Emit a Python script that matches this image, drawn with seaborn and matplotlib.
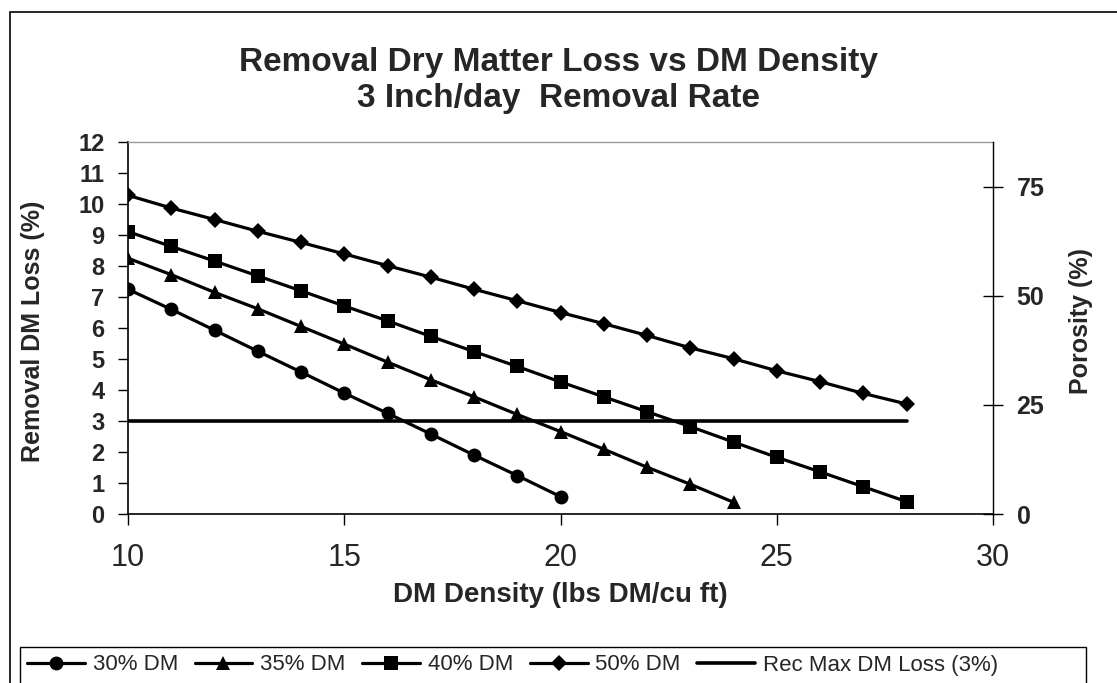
import pandas as pd
import matplotlib
matplotlib.use("Agg")
import matplotlib.pyplot as plt
from matplotlib.lines import Line2D
from matplotlib.patches import Rectangle
import seaborn as sns

# DM density (lbs DM/cu ft)
density = list(range(10, 29))

loss_30 = [7.25, 6.60, 5.93, 5.25, 4.58, 3.90, 3.25, 2.58, 1.90, 1.24, 0.56]
loss_35 = [8.25, 7.72, 7.15, 6.62, 6.05, 5.48, 4.90, 4.33, 3.78, 3.21, 2.66,
           2.09, 1.51, 0.96, 0.38]
loss_40 = [9.11, 8.63, 8.16, 7.68, 7.20, 6.71, 6.23, 5.73, 5.24, 4.76, 4.26,
           3.78, 3.30, 2.82, 2.32, 1.83, 1.36, 0.88, 0.40]
loss_50 = [10.28, 9.87, 9.50, 9.12, 8.76, 8.39, 8.01, 7.64, 7.25, 6.88, 6.50,
           6.14, 5.76, 5.36, 5.01, 4.62, 4.27, 3.89, 3.55]
rec_max = 3.0

series_names = ["30% DM", "35% DM", "40% DM", "50% DM", "Rec Max DM Loss (3%)"]
markers = ["o", "^", "s", "D", None]
msizes = [10, 10, 10, 8.5, 0]
widths = [2.3, 2.3, 2.3, 2.3, 2.6]

rows = []
for name, vals in zip(series_names[:4], [loss_30, loss_35, loss_40, loss_50]):
    for x, v in zip(density, vals):
        rows.append({"Density": x, "Loss": v, "Series": name})
for x in density:
    rows.append({"Density": x, "Loss": rec_max, "Series": series_names[4]})
df = pd.DataFrame(rows)

sns.set_style("white")
plt.rcParams["font.family"] = ["Liberation Sans", "DejaVu Sans"]

W, H = 1117, 683
fig = plt.figure(figsize=(W / 100, H / 100), dpi=100)
ax = fig.add_axes([128 / W, 1 - 514 / H, (993 - 128) / W, (514 - 142) / H])

for name, m, ms, lw in zip(series_names, markers, msizes, widths):
    sub = df[df["Series"] == name]
    sns.lineplot(data=sub, x="Density", y="Loss", color="black", lw=lw,
                 marker=m, markersize=ms, markeredgewidth=0, ax=ax,
                 zorder=3 if m else 2)

ax.set_xlim(10, 30)
ax.set_ylim(0, 12)
ax.set_xticks([10, 15, 20, 25, 30])
ax.set_yticks(range(0, 13))
ax.tick_params(axis="x", labelsize=22, direction="out", length=8, width=1,
               color="black", pad=13, bottom=True)
ax.tick_params(axis="y", labelsize=17, direction="out", length=7, width=1,
               color="black", pad=10, left=True)
for lab in ax.get_yticklabels():
    lab.set_fontweight("bold")
ax.set_xlabel("DM Density (lbs DM/cu ft)", fontsize=20, fontweight="bold")
ax.xaxis.set_label_coords(0.5, (514 - 582) / 372)
ax.set_ylabel("Removal DM Loss (%)", fontsize=18, fontweight="bold")
ax.yaxis.set_label_coords((45 - 128) / 865, 0.49)
for side in ["left", "bottom"]:
    ax.spines[side].set_color("black")
    ax.spines[side].set_linewidth(1.2)
ax.spines["top"].set_color("#999999")
ax.spines["top"].set_linewidth(1.0)
ax.spines["right"].set_visible(False)

ax2 = ax.twinx()
ax2.set_ylim(0, 85.3)
ax2.set_yticks([0, 25, 50, 75])
ax2.tick_params(axis="y", labelsize=18, direction="inout", length=14, width=1,
                color="black", pad=10, right=True)
for lab in ax2.get_yticklabels():
    lab.set_fontweight("bold")
ax2.set_ylabel("Porosity (%)", fontsize=18, fontweight="bold")
ax2.yaxis.set_label_coords(1 + (1069 - 993) / 865, 0.52)
for side in ["left", "bottom", "top"]:
    ax2.spines[side].set_visible(False)
ax2.spines["right"].set_color("black")
ax2.spines["right"].set_linewidth(1.0)

fig.text(0.5, 1 - 62 / H, "Removal Dry Matter Loss vs DM Density",
         ha="center", va="center", fontsize=24, fontweight="bold")
fig.text(0.5, 1 - 98 / H, "3 Inch/day  Removal Rate",
         ha="center", va="center", fontsize=24, fontweight="bold")

# outer chart frame (extends past right/bottom edges)
fig.patches.append(Rectangle((10 / W, -0.1), 1.2, 1.1 - 12 / H,
                             transform=fig.transFigure, fill=False,
                             edgecolor="black", linewidth=1.2))

# legend box
fig.patches.append(Rectangle((20 / W, -0.1), (1086 - 20) / W,
                             0.1 + (H - 647) / H,
                             transform=fig.transFigure, fill=False,
                             edgecolor="black", linewidth=1.0))
handles = []
for m, ms, lw in zip(markers, msizes, widths):
    handles.append(Line2D([], [], color="black", lw=lw, marker=m,
                          markersize=ms, markeredgewidth=0))
fig.legend(handles, series_names, loc="center left",
           bbox_to_anchor=(27 / W, 1 - 665 / H), ncol=5, frameon=False,
           fontsize=16, handlelength=2.6, handletextpad=0.35,
           columnspacing=0.75, borderaxespad=0, borderpad=0)

fig.savefig("out.png", dpi=100)
